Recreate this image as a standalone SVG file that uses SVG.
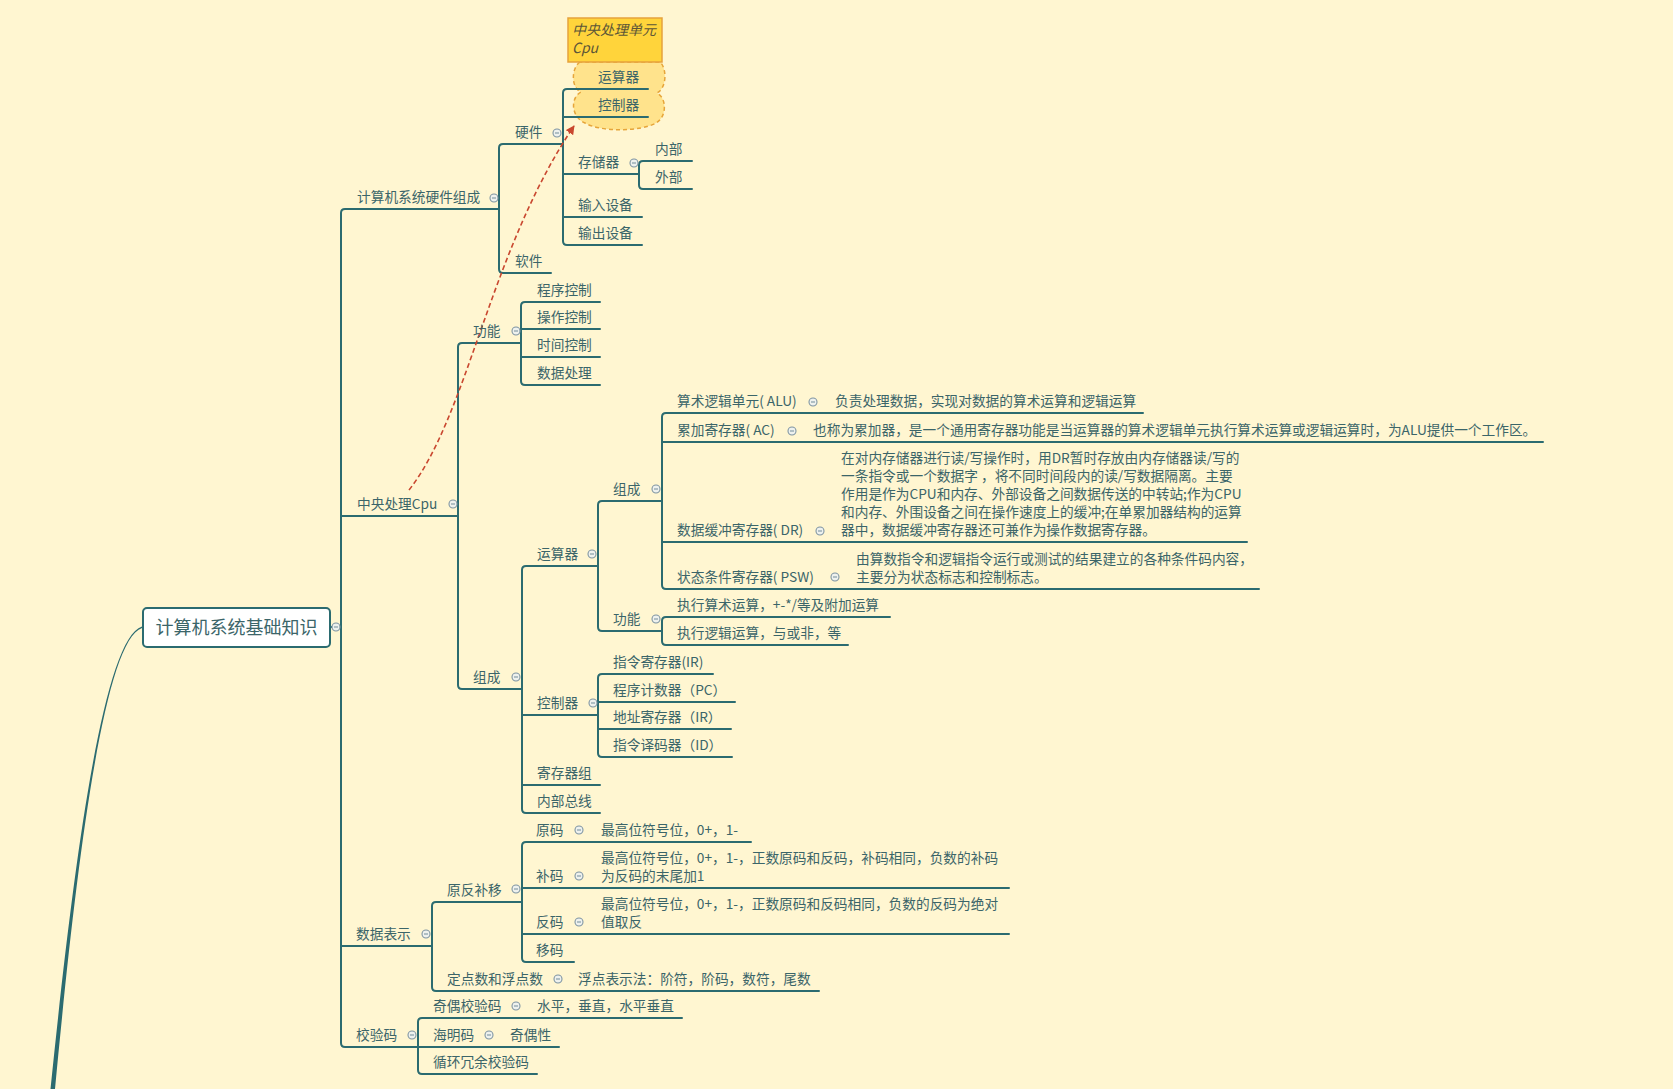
<svg xmlns="http://www.w3.org/2000/svg" width="1673" height="1089" viewBox="0 0 1673 1089">
<style>
.t{font-family:"Noto Sans CJK SC","Noto Sans",sans-serif;font-size:13.7px;fill:#3B6569}
.ln{fill:none;stroke:#2B6B70;stroke-width:2;stroke-linecap:round}
.cb{fill:#EEF1EE;stroke:#7F95A2;stroke-width:1.1}
.cm{stroke:#7F95A2;stroke-width:1.1}
</style>
<defs>
<g id="col"><circle class="cb" r="4"/><line class="cm" x1="-2" y1="0" x2="2" y2="0"/></g>
<marker id="ah" viewBox="0 0 10 10" refX="9" refY="5" markerWidth="9" markerHeight="9" markerUnits="userSpaceOnUse" orient="auto"><path d="M0,0 L10,5 L0,10 z" fill="#C9472F"/></marker>
</defs>
<rect width="1673" height="1089" fill="#FFF6D1"/>

<g id="callout">
<path d="M580,62 C571,68 571,88 581,92 C570,98 571,117 585,123 C600,132 640,132 656,123 C667,117 667,98 657,93 C667,88 667,68 660,62 Z" fill="#FFE38C" stroke="#E6A53A" stroke-width="1.5" stroke-dasharray="4,3"/>
<rect x="568" y="18" width="94" height="44" fill="#FFD43B" stroke="#E6A23C" stroke-width="1.5"/>
<text class="t" x="572" y="35" font-style="italic" style="fill:#5C5637;font-size:14px">中央处理单元</text>
<text class="t" x="572" y="53" font-style="italic" style="fill:#5C5637;font-size:14px">Cpu</text>
</g>

<g id="connectors">
<path d="M142,626.5 C100,639.5 70,900 50.5,1089 L55,1089 C73,900 101,641 142,628 Z" fill="#2B6B70"/>
<path class="ln" d="M330,627 H341"/>
<path class="ln" d="M499,209 H345 Q341,209 341,213 V1043 Q341,1047 345,1047 H418"/>
<path class="ln" d="M341,516 H458 M341,946 H432"/>
<path class="ln" d="M563,144 H503 Q499,144 499,148 V269 Q499,273 503,273 H551"/>
<path class="ln" d="M648,89 H567 Q563,89 563,93 V241 Q563,245 567,245 H642"/>
<path class="ln" d="M563,117 H648 M563,174 H639 M563,217 H642"/>
<path class="ln" d="M692,161 H643 Q639,161 639,165 V185 Q639,189 643,189 H692"/>
<path class="ln" d="M521,343 H462 Q458,343 458,347 V685 Q458,689 462,689 H522"/>
<path class="ln" d="M600,302 H525 Q521,302 521,306 V381 Q521,385 525,385 H600"/>
<path class="ln" d="M521,329 H600 M521,357 H600"/>
<path class="ln" d="M598,566 H526 Q522,566 522,570 V809 Q522,813 526,813 H600"/>
<path class="ln" d="M522,715 H598 M522,785 H600"/>
<path class="ln" d="M662,501 H602 Q598,501 598,505 V627 Q598,631 602,631 H662"/>
<path class="ln" d="M1143,413 H666 Q662,413 662,417 V585 Q662,589 666,589 H1259"/>
<path class="ln" d="M662,442 H1543 M662,542 H1247"/>
<path class="ln" d="M890,617 H666 Q662,617 662,621 V641 Q662,645 666,645 H848"/>
<path class="ln" d="M713,674 H602 Q598,674 598,678 V753 Q598,757 602,757 H732"/>
<path class="ln" d="M598,702 H735 M598,729 H731"/>
<path class="ln" d="M522,902 H436 Q432,902 432,906 V987 Q432,991 436,991 H819"/>
<path class="ln" d="M751,842 H526 Q522,842 522,846 V958 Q522,962 526,962 H574"/>
<path class="ln" d="M522,888 H1009 M522,934 H1009"/>
<path class="ln" d="M682,1018 H422 Q418,1018 418,1022 V1070 Q418,1074 422,1074 H537"/>
<path class="ln" d="M418,1047 H559"/>
<path d="M409,490 C468,415 490,250 574,126" fill="none" stroke="#C9472F" stroke-width="1.6" stroke-dasharray="5,3" marker-end="url(#ah)"/>
</g>

<g id="root">
<rect x="143" y="608" width="187" height="39" rx="4" fill="#FFFFFF" stroke="#2B6B70" stroke-width="2"/>
<text class="t" x="236.5" y="634" text-anchor="middle" style="font-size:18px">计算机系统基础知识</text>
<use href="#col" x="336" y="627"/>
</g>

<g id="n-hwcomp"><text class="t" x="357" y="202">计算机系统硬件组成</text><use href="#col" x="494" y="198"/></g>
<g id="n-hw"><text class="t" x="515" y="137">硬件</text><use href="#col" x="557" y="133"/></g>
<g id="n-cloud-alu"><text class="t" x="598" y="82">运算器</text></g>
<g id="n-cloud-ctrl"><text class="t" x="598" y="110">控制器</text></g>
<g id="n-mem"><text class="t" x="578" y="167">存储器</text><use href="#col" x="634" y="163"/></g>
<g id="n-inner"><text class="t" x="655" y="154">内部</text></g>
<g id="n-outer"><text class="t" x="655" y="182">外部</text></g>
<g id="n-input"><text class="t" x="578" y="210">输入设备</text></g>
<g id="n-output"><text class="t" x="578" y="238">输出设备</text></g>
<g id="n-sw"><text class="t" x="515" y="266">软件</text></g>

<g id="n-cpu"><text class="t" x="357" y="509">中央处理Cpu</text><use href="#col" x="453" y="504"/></g>
<g id="n-func"><text class="t" x="473" y="336">功能</text><use href="#col" x="516" y="331"/></g>
<g id="n-f1"><text class="t" x="537" y="295">程序控制</text></g>
<g id="n-f2"><text class="t" x="537" y="322">操作控制</text></g>
<g id="n-f3"><text class="t" x="537" y="350">时间控制</text></g>
<g id="n-f4"><text class="t" x="537" y="378">数据处理</text></g>
<g id="n-comp"><text class="t" x="473" y="682">组成</text><use href="#col" x="516" y="677"/></g>
<g id="n-alu"><text class="t" x="537" y="559">运算器</text><use href="#col" x="592" y="554"/></g>
<g id="n-alucomp"><text class="t" x="613" y="494">组成</text><use href="#col" x="656" y="489"/></g>
<g id="n-aluunit"><text class="t" x="677" y="406">算术逻辑单元( ALU)</text><use href="#col" x="813" y="402"/><text class="t" x="835" y="406">负责处理数据，实现对数据的算术运算和逻辑运算</text></g>
<g id="n-ac"><text class="t" x="677" y="435">累加寄存器( AC)</text><use href="#col" x="792" y="431"/><text class="t" x="813" y="435">也称为累加器，是一个通用寄存器功能是当运算器的算术逻辑单元执行算术运算或逻辑运算时，为ALU提供一个工作区。</text></g>
<g id="n-dr"><text class="t" x="677" y="535">数据缓冲寄存器( DR)</text><use href="#col" x="820" y="531"/>
<text class="t" x="841" y="463">在对内存储器进行读/写操作时，用DR暂时存放由内存储器读/写的</text>
<text class="t" x="841" y="481">一条指令或一个数据字 ，将不同时间段内的读/写数据隔离。主要</text>
<text class="t" x="841" y="499">作用是作为CPU和内存、外部设备之间数据传送的中转站;作为CPU</text>
<text class="t" x="841" y="517">和内存、外围设备之间在操作速度上的缓冲;在单累加器结构的运算</text>
<text class="t" x="841" y="535">器中，数据缓冲寄存器还可兼作为操作数据寄存器。</text></g>
<g id="n-psw"><text class="t" x="677" y="582">状态条件寄存器( PSW)</text><use href="#col" x="835" y="577"/>
<text class="t" x="856" y="564">由算数指令和逻辑指令运行或测试的结果建立的各种条件码内容，</text>
<text class="t" x="856" y="582">主要分为状态标志和控制标志。</text></g>
<g id="n-alufunc"><text class="t" x="613" y="624">功能</text><use href="#col" x="656" y="619"/></g>
<g id="n-af1"><text class="t" x="677" y="610">执行算术运算，+-*/等及附加运算</text></g>
<g id="n-af2"><text class="t" x="677" y="638">执行逻辑运算，与或非，等</text></g>
<g id="n-ctrl"><text class="t" x="537" y="708">控制器</text><use href="#col" x="593" y="703"/></g>
<g id="n-ir"><text class="t" x="613" y="667">指令寄存器(IR)</text></g>
<g id="n-pc"><text class="t" x="613" y="695">程序计数器（PC）</text></g>
<g id="n-ar"><text class="t" x="613" y="722">地址寄存器（IR）</text></g>
<g id="n-id"><text class="t" x="613" y="750">指令译码器（ID）</text></g>
<g id="n-regs"><text class="t" x="537" y="778">寄存器组</text></g>
<g id="n-bus"><text class="t" x="537" y="806">内部总线</text></g>

<g id="n-data"><text class="t" x="356" y="939">数据表示</text><use href="#col" x="426" y="934"/></g>
<g id="n-yfbj"><text class="t" x="447" y="895">原反补移</text><use href="#col" x="516" y="889"/></g>
<g id="n-ym"><text class="t" x="536" y="835">原码</text><use href="#col" x="579" y="830"/><text class="t" x="601" y="835">最高位符号位，0+，1-</text></g>
<g id="n-bm"><text class="t" x="536" y="881">补码</text><use href="#col" x="579" y="876"/><text class="t" x="601" y="863">最高位符号位，0+，1-，正数原码和反码，补码相同，负数的补码</text><text class="t" x="601" y="881">为反码的末尾加1</text></g>
<g id="n-fm"><text class="t" x="536" y="927">反码</text><use href="#col" x="579" y="922"/><text class="t" x="601" y="909">最高位符号位，0+，1-，正数原码和反码相同，负数的反码为绝对</text><text class="t" x="601" y="927">值取反</text></g>
<g id="n-ymm"><text class="t" x="536" y="955">移码</text></g>
<g id="n-fp"><text class="t" x="447" y="984">定点数和浮点数</text><use href="#col" x="558" y="979"/><text class="t" x="578" y="984">浮点表示法：阶符，阶码，数符，尾数</text></g>

<g id="n-check"><text class="t" x="356" y="1040">校验码</text><use href="#col" x="412" y="1035"/></g>
<g id="n-parity"><text class="t" x="433" y="1011">奇偶校验码</text><use href="#col" x="516" y="1006"/><text class="t" x="537" y="1011">水平，垂直，水平垂直</text></g>
<g id="n-hamming"><text class="t" x="433" y="1040">海明码</text><use href="#col" x="489" y="1035"/><text class="t" x="510" y="1040">奇偶性</text></g>
<g id="n-crc"><text class="t" x="433" y="1067">循环冗余校验码</text></g>
</svg>
